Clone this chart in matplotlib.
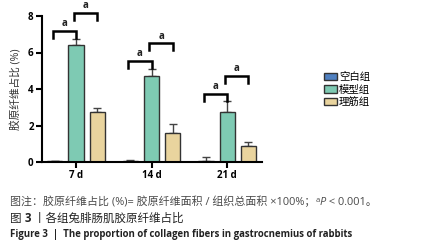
import matplotlib
matplotlib.use("Agg")
import matplotlib.pyplot as plt
import numpy as np

plt.rcParams['font.family'] = ['Open Sans', 'Noto Sans CJK SC', 'DejaVu Sans']

# data
days = ["7 d", "14 d", "21 d"]
groups = ["空白组", "模型组", "理筋组"]
blank = [0.05, 0.06, 0.08]
blank_err = [0.02, 0.03, 0.18]
model = [6.43, 4.73, 2.74]
model_err = [0.3, 0.37, 0.62]
treat = [2.72, 1.57, 0.88]
treat_err = [0.22, 0.5, 0.22]
# significance brackets: (day index, left bar, right bar, height)
sig = [(0, 0, 1, 7.18), (0, 1, 2, 8.15),
       (1, 0, 1, 5.53), (1, 1, 2, 6.5),
       (2, 0, 1, 3.73), (2, 1, 2, 4.71)]

colors = ["#4f80c0", "#7ecab3", "#e9d49e"]

fig = plt.figure(figsize=(4.22, 2.52), dpi=100)
ax = fig.add_axes([42/422, 1-162/252, 220/422, 146/252])

x = np.arange(len(days))
w = 0.2
off = 0.28
series = [(blank, blank_err), (model, model_err), (treat, treat_err)]
for i, (vals, errs) in enumerate(series):
    pos = x + (i - 1) * off
    ax.bar(pos, vals, w, color=colors[i], edgecolor="#333333", linewidth=1.0,
           label=groups[i], zorder=2)
    ax.errorbar(pos, vals, yerr=[np.zeros(len(vals)), errs], fmt="none",
                ecolor="#444444", elinewidth=1.0, capsize=3, capthick=1.0, zorder=1)

for d, a, b, h in sig:
    x0 = x[d] + (a - 1) * off - 0.03
    x1 = x[d] + (b - 1) * off
    ax.plot([x0, x0, x1, x1], [h - 0.38, h, h, h - 0.38], color="black",
            lw=1.8, clip_on=False, solid_joinstyle="miter")
    ax.text((x0 + x1) / 2, h + 0.1, "a", ha="center", va="bottom",
            fontsize=7, fontweight="bold", color="#222222")

ax.set_xlim(-0.45, 2.46)
ax.set_ylim(0, 8)
ax.set_yticks([0, 2, 4, 6, 8])
ax.set_xticks(x)
ax.set_xticklabels(days, fontweight="bold")
for lab in ax.get_yticklabels():
    lab.set_fontweight("bold")
ax.tick_params(labelsize=7, width=1.5, length=4, pad=2, colors="black")
for s in ["top", "right"]:
    ax.spines[s].set_visible(False)
for s in ["left", "bottom"]:
    ax.spines[s].set_linewidth(1.5)
ax.set_ylabel("胶原纤维占比 (%)", fontsize=7.7, color="#333333", labelpad=4)

ax.legend(loc="upper left", bbox_to_anchor=(319/422, 1-67/252),
          bbox_transform=fig.transFigure, frameon=False, fontsize=7.5,
          handlelength=1.2, handleheight=0.7, handletextpad=0.2,
          labelspacing=0.15, borderpad=0)

# caption, written piece by piece
renderer = fig.canvas.get_renderer()


def line(pieces, y, x0=10):
    xp = x0
    for s, kw, dy in pieces:
        t = fig.text(xp / 422, (y + dy) / 252, s, va="baseline", **kw)
        bb = t.get_window_extent(renderer=renderer)
        xp += bb.width


grey = dict(fontsize=7.9, color="#4a4a4a")
line([("图注：胶原纤维占比 (%)= 胶原纤维面积 / 组织总面积 ×100%；", grey, 0),
      ("a", dict(fontsize=5.5, color="#4a4a4a"), 3.5),
      ("P", dict(fontsize=7.9, color="#4a4a4a", style="italic"), 0),
      (" < 0.001。", grey, 0)], 252 - 205)
dark = dict(fontsize=8.3, color="#222222")
line([("图 ", dark, 0), ("3", dict(fontsize=8.3, color="#222222", fontweight="bold"), 0),
      (" 丨各组兔腓肠肌胶原纤维占比", dark, 0)], 252 - 222)
fig.text(10/422, 1-236.5/252, "Figure 3  |  The proportion of collagen fibers in gastrocnemius of rabbits",
         fontsize=6.9, color="#222222", va="baseline", fontweight="bold")

fig.savefig("out.png", dpi=100)
